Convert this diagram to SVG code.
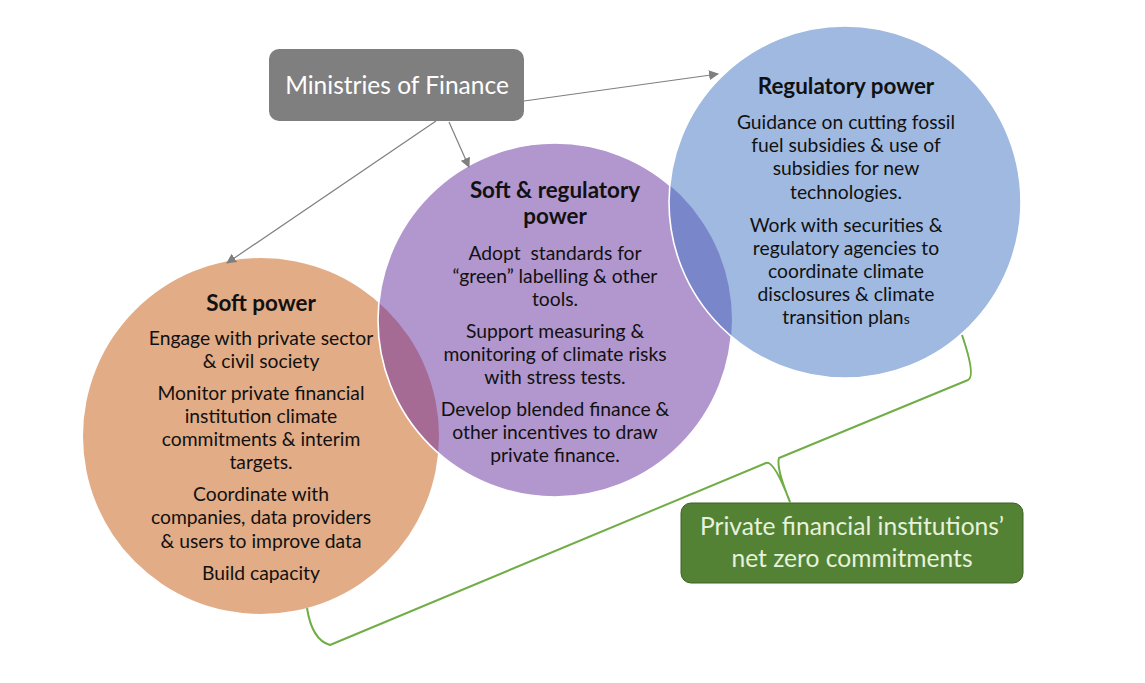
<svg xmlns="http://www.w3.org/2000/svg" width="1145" height="683" viewBox="0 0 1145 683">
<style>
.t{font-family:Lato,"Open Sans","Liberation Sans",sans-serif;fill:#111;text-anchor:middle;font-size:19.3px}
.h{font-weight:bold;font-size:22.4px}
.w{font-family:Lato,"Open Sans","Liberation Sans",sans-serif;text-anchor:middle}
.arr{stroke:#7f7f7f;stroke-width:1.2;fill:none;marker-end:url(#ah)}
</style>
<defs>
<marker id="ah" viewBox="0 0 10 10" refX="9" refY="5" markerWidth="10" markerHeight="10" markerUnits="userSpaceOnUse" orient="auto">
<path d="M0,0 L10,5 L0,10 Z" fill="#7f7f7f"/>
</marker>
<clipPath id="cO"><circle cx="261" cy="436" r="178"/></clipPath>
<clipPath id="cP"><circle cx="555" cy="320" r="177"/></clipPath>
</defs>
<rect width="1145" height="683" fill="#fff"/>

<g id="soft">
<circle cx="261" cy="436" r="178" fill="#E2AC87"/>
</g>
<g id="softreg">
<circle cx="555" cy="320" r="177" fill="#B296CE"/>
<circle cx="555" cy="320" r="177" fill="#A56B95" clip-path="url(#cO)"/>
<circle cx="555" cy="320" r="177" fill="none" stroke="#fff" stroke-width="1.6"/>
</g>
<g id="reg">
<circle cx="845" cy="202" r="176" fill="#A0B9E1"/>
<circle cx="845" cy="202" r="176" fill="#7A86CA" clip-path="url(#cP)"/>
<circle cx="845" cy="202" r="176" fill="none" stroke="#fff" stroke-width="1.6"/>
</g>

<g id="soft-text">
<text class="t h" x="261" y="311">Soft power</text>
<text class="t" x="261" y="345">Engage with private sector</text>
<text class="t" x="261" y="368">&amp; civil society</text>
<text class="t" x="261" y="400">Monitor private financial</text>
<text class="t" x="261" y="423">institution climate</text>
<text class="t" x="261" y="446">commitments &amp; interim</text>
<text class="t" x="261" y="469">targets.</text>
<text class="t" x="261" y="501">Coordinate with</text>
<text class="t" x="261" y="524">companies, data providers</text>
<text class="t" x="261" y="548">&amp; users to improve data</text>
<text class="t" x="261" y="580">Build capacity</text>
</g>
<g id="softreg-text">
<text class="t h" x="555" y="198">Soft &amp; regulatory</text>
<text class="t h" x="555" y="224">power</text>
<text class="t" x="555" y="260" xml:space="preserve">Adopt  standards for</text>
<text class="t" x="555" y="283">“green” labelling &amp; other</text>
<text class="t" x="555" y="306">tools.</text>
<text class="t" x="555" y="338">Support measuring &amp;</text>
<text class="t" x="555" y="361">monitoring of climate risks</text>
<text class="t" x="555" y="384">with stress tests.</text>
<text class="t" x="555" y="416">Develop blended finance &amp;</text>
<text class="t" x="555" y="439">other incentives to draw</text>
<text class="t" x="555" y="462">private finance.</text>
</g>
<g id="reg-text">
<text class="t h" x="846" y="94">Regulatory power</text>
<text class="t" x="846" y="129">Guidance on cutting fossil</text>
<text class="t" x="846" y="152">fuel subsidies &amp; use of</text>
<text class="t" x="846" y="175">subsidies for new</text>
<text class="t" x="846" y="199">technologies.</text>
<text class="t" x="846" y="232">Work with securities &amp;</text>
<text class="t" x="846" y="255">regulatory agencies to</text>
<text class="t" x="846" y="278">coordinate climate</text>
<text class="t" x="846" y="301">disclosures &amp; climate</text>
<text class="t" x="846" y="324">transition plan<tspan font-size="14px">s</tspan></text>
</g>

<g id="ministries">
<rect x="269" y="49" width="255" height="72" rx="10" fill="#7F7F7F"/>
<text class="w" x="397" y="94" font-size="24.5" fill="#fff">Ministries of Finance</text>
</g>

<g id="private">
<rect x="681" y="503" width="342" height="80" rx="10" fill="#548235" stroke="#3E6128" stroke-width="1"/>
<text class="w" x="852" y="535" font-size="24.6" fill="#E6F2DC">Private financial institutions’</text>
<text class="w" x="852" y="567" font-size="24.6" fill="#E6F2DC">net zero commitments</text>
</g>

<g id="connectors">
<line class="arr" x1="524" y1="101" x2="718" y2="74"/>
<line class="arr" x1="436" y1="121" x2="227" y2="263"/>
<line class="arr" x1="449" y1="122" x2="469" y2="167"/>
<path d="M307,608 Q312,640 330,645 L766,463 Q774,460 790,502 Q776,468 779,458 L968,380 Q976,376 962,335" fill="none" stroke="#70AD47" stroke-width="2" stroke-linejoin="round"/>
</g>
</svg>
